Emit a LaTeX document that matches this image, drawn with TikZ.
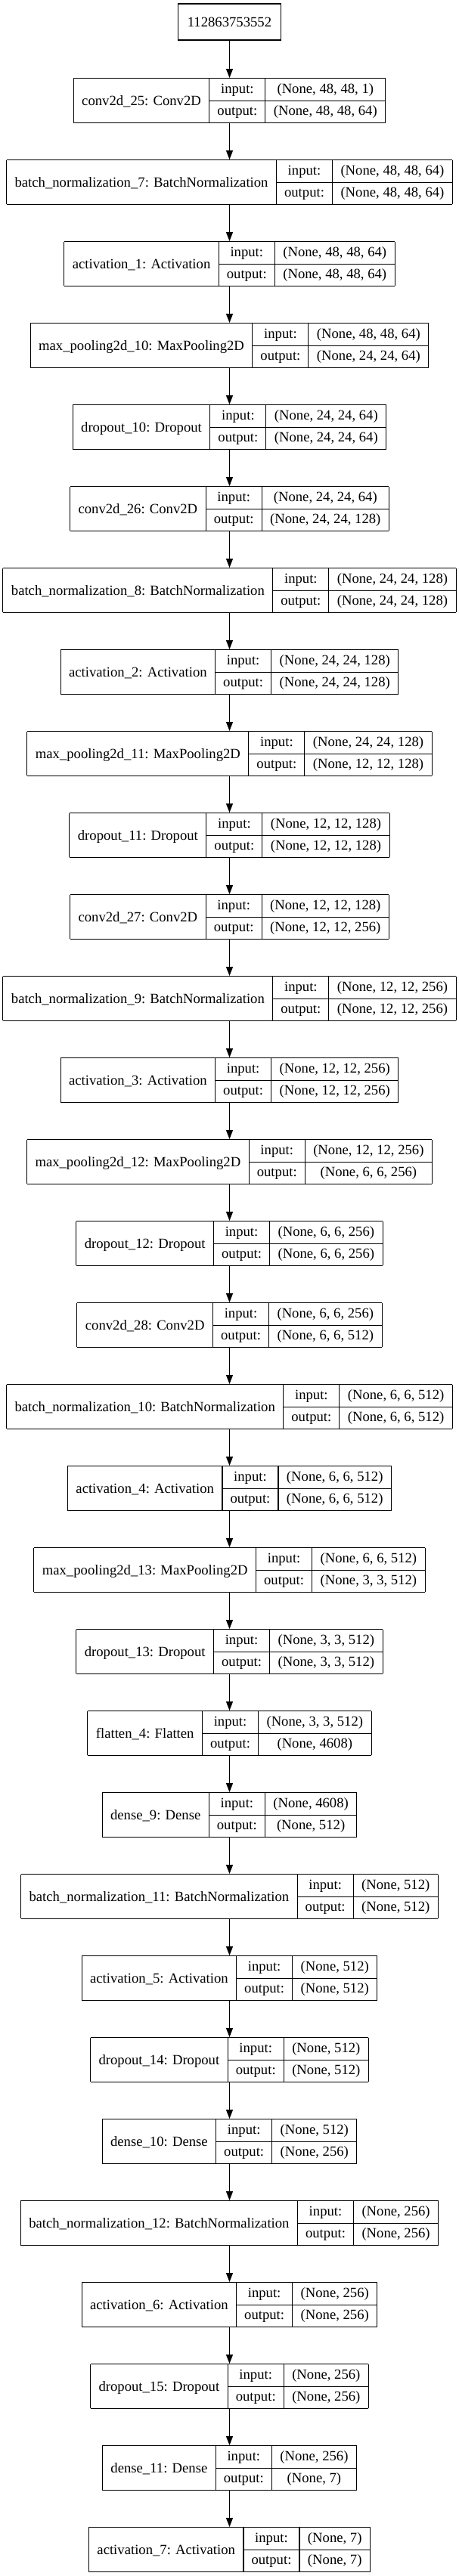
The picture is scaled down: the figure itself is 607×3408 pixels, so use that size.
\documentclass[tikz,border=0pt]{standalone}
\usepackage{fontspec}
\setmainfont{Liberation Serif}
\usetikzlibrary{arrows.meta}

\newcommand{\recfont}{\fontsize{18.67pt}{22pt}\selectfont}
\setlength\tabcolsep{11pt}
\setlength\arrayrulewidth{1.1pt}
\renewcommand\arraystretch{0}

% one record: name, input shape, output shape
\newcommand{\rec}[3]{%
  \begin{tabular}{|c|c|c|}\hline
  \smash{\raisebox{-16.5pt}{#1}} & \makebox[52pt]{input:} & #2\rule[-10pt]{0pt}{29pt}\\ \cline{2-3}
   & \makebox[52pt]{output:} & #3\rule[-10pt]{0pt}{29pt}\\ \hline
  \end{tabular}}

\tikzset{
  layer/.style={inner sep=0pt,outer sep=0pt,anchor=north,font=\recfont},
  inbox/.style={draw=black,line width=1.1pt,inner xsep=12pt,outer sep=0pt,
    minimum height=48pt,font=\recfont,text height=12.4pt,text depth=0pt},
  arr/.style={line width=1.1pt,-{Triangle[length=12pt,width=9pt]}}
}

\begin{document}
\begin{tikzpicture}[x=1pt,y=-1pt]
\useasboundingbox (0,0) rectangle (607,3408);

\node[inbox] (input) at (303.5,29) {112863753552};% Input

\node[layer] (conv25) at (303.5,103) {\rec{conv2d\_25: Conv2D}{(None, 48, 48, 1)}{(None, 48, 48, 64)}};
\node[layer] (bn7) at (303.5,211) {\rec{batch\_normalization\_7: BatchNormalization}{(None, 48, 48, 64)}{(None, 48, 48, 64)}};
\node[layer] (act1) at (303.5,319) {\rec{activation\_1: Activation}{(None, 48, 48, 64)}{(None, 48, 48, 64)}};
\node[layer] (pool10) at (303.5,427) {\rec{max\_pooling2d\_10: MaxPooling2D}{(None, 48, 48, 64)}{(None, 24, 24, 64)}};
\node[layer] (drop10) at (303.5,535) {\rec{dropout\_10: Dropout}{(None, 24, 24, 64)}{(None, 24, 24, 64)}};
\node[layer] (conv26) at (303.5,643) {\rec{conv2d\_26: Conv2D}{(None, 24, 24, 64)}{(None, 24, 24, 128)}};
\node[layer] (bn8) at (303.5,751) {\rec{batch\_normalization\_8: BatchNormalization}{(None, 24, 24, 128)}{(None, 24, 24, 128)}};
\node[layer] (act2) at (303.5,859) {\rec{activation\_2: Activation}{(None, 24, 24, 128)}{(None, 24, 24, 128)}};
\node[layer] (pool11) at (303.5,967) {\rec{max\_pooling2d\_11: MaxPooling2D}{(None, 24, 24, 128)}{(None, 12, 12, 128)}};
\node[layer] (drop11) at (303.5,1075) {\rec{dropout\_11: Dropout}{(None, 12, 12, 128)}{(None, 12, 12, 128)}};
\node[layer] (conv27) at (303.5,1183) {\rec{conv2d\_27: Conv2D}{(None, 12, 12, 128)}{(None, 12, 12, 256)}};
\node[layer] (bn9) at (303.5,1291) {\rec{batch\_normalization\_9: BatchNormalization}{(None, 12, 12, 256)}{(None, 12, 12, 256)}};
\node[layer] (act3) at (303.5,1399) {\rec{activation\_3: Activation}{(None, 12, 12, 256)}{(None, 12, 12, 256)}};
\node[layer] (pool12) at (303.5,1507) {\rec{max\_pooling2d\_12: MaxPooling2D}{(None, 12, 12, 256)}{(None, 6, 6, 256)}};
\node[layer] (drop12) at (303.5,1615) {\rec{dropout\_12: Dropout}{(None, 6, 6, 256)}{(None, 6, 6, 256)}};
\node[layer] (conv28) at (303.5,1723) {\rec{conv2d\_28: Conv2D}{(None, 6, 6, 256)}{(None, 6, 6, 512)}};
\node[layer] (bn10) at (303.5,1831) {\rec{batch\_normalization\_10: BatchNormalization}{(None, 6, 6, 512)}{(None, 6, 6, 512)}};
\node[layer] (act4) at (303.5,1939) {\rec{activation\_4: Activation}{(None, 6, 6, 512)}{(None, 6, 6, 512)}};
\node[layer] (pool13) at (303.5,2047) {\rec{max\_pooling2d\_13: MaxPooling2D}{(None, 6, 6, 512)}{(None, 3, 3, 512)}};
\node[layer] (drop13) at (303.5,2155) {\rec{dropout\_13: Dropout}{(None, 3, 3, 512)}{(None, 3, 3, 512)}};
\node[layer] (flat4) at (303.5,2263) {\rec{flatten\_4: Flatten}{(None, 3, 3, 512)}{(None, 4608)}};
\node[layer] (dense9) at (303.5,2371) {\rec{dense\_9: Dense}{(None, 4608)}{(None, 512)}};
\node[layer] (bn11) at (303.5,2479) {\rec{batch\_normalization\_11: BatchNormalization}{(None, 512)}{(None, 512)}};
\node[layer] (act5) at (303.5,2587) {\rec{activation\_5: Activation}{(None, 512)}{(None, 512)}};
\node[layer] (drop14) at (303.5,2695) {\rec{dropout\_14: Dropout}{(None, 512)}{(None, 512)}};
\node[layer] (dense10) at (303.5,2803) {\rec{dense\_10: Dense}{(None, 512)}{(None, 256)}};
\node[layer] (bn12) at (303.5,2911) {\rec{batch\_normalization\_12: BatchNormalization}{(None, 256)}{(None, 256)}};
\node[layer] (act6) at (303.5,3019) {\rec{activation\_6: Activation}{(None, 256)}{(None, 256)}};
\node[layer] (drop15) at (303.5,3127) {\rec{dropout\_15: Dropout}{(None, 256)}{(None, 256)}};
\node[layer] (dense11) at (303.5,3235) {\rec{dense\_11: Dense}{(None, 256)}{(None, 7)}};
\node[layer] (act7) at (303.5,3343) {\rec{activation\_7: Activation}{(None, 7)}{(None, 7)}};

\draw[arr] (input) -- (conv25);
\draw[arr] (conv25) -- (bn7);
\draw[arr] (bn7) -- (act1);
\draw[arr] (act1) -- (pool10);
\draw[arr] (pool10) -- (drop10);
\draw[arr] (drop10) -- (conv26);
\draw[arr] (conv26) -- (bn8);
\draw[arr] (bn8) -- (act2);
\draw[arr] (act2) -- (pool11);
\draw[arr] (pool11) -- (drop11);
\draw[arr] (drop11) -- (conv27);
\draw[arr] (conv27) -- (bn9);
\draw[arr] (bn9) -- (act3);
\draw[arr] (act3) -- (pool12);
\draw[arr] (pool12) -- (drop12);
\draw[arr] (drop12) -- (conv28);
\draw[arr] (conv28) -- (bn10);
\draw[arr] (bn10) -- (act4);
\draw[arr] (act4) -- (pool13);
\draw[arr] (pool13) -- (drop13);
\draw[arr] (drop13) -- (flat4);
\draw[arr] (flat4) -- (dense9);
\draw[arr] (dense9) -- (bn11);
\draw[arr] (bn11) -- (act5);
\draw[arr] (act5) -- (drop14);
\draw[arr] (drop14) -- (dense10);
\draw[arr] (dense10) -- (bn12);
\draw[arr] (bn12) -- (act6);
\draw[arr] (act6) -- (drop15);
\draw[arr] (drop15) -- (dense11);
\draw[arr] (dense11) -- (act7);
\end{tikzpicture}
\end{document}
